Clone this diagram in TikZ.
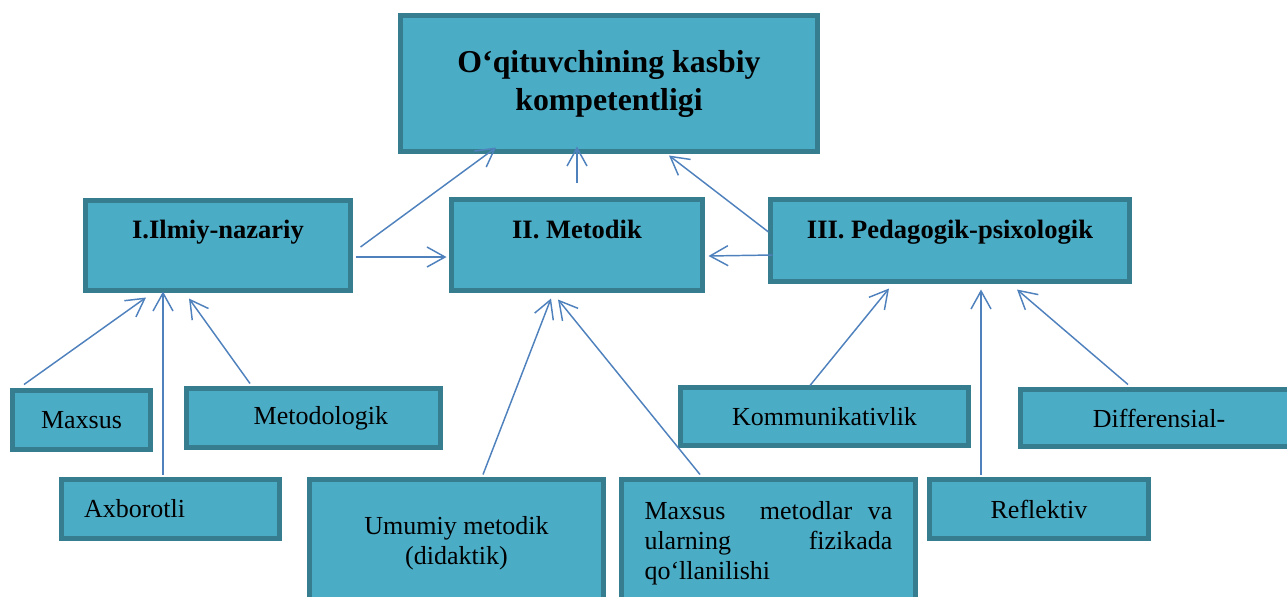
\documentclass[tikz,border=0pt]{standalone}
\usepackage{fontspec}
\setmainfont{Liberation Serif}
\usetikzlibrary{arrows.meta,calc}
\definecolor{boxfill}{HTML}{4BACC6}
\definecolor{boxline}{HTML}{367E8F}
\definecolor{arrowc}{HTML}{4F81BD}
\tikzset{
 kbox/.style={draw=boxline, fill=boxfill, line width=3.75pt, inner sep=0pt, font=\fontsize{19.5}{22.5}\selectfont},
 hbox/.style={kbox, font=\bfseries\fontsize{19.9}{24}\selectfont, text height=15pt},
 conn/.style={draw=arrowc, line width=1.1pt, -{Straight Barb[length=13.5pt,width=15pt,line width=1.1pt]}},
}
\begin{document}
\begin{tikzpicture}[x=0.75pt,y=-0.75pt]
\useasboundingbox (0,0) rectangle (1287,596);
\clip (0,0) rectangle (1287,596);
\node[kbox, minimum width=312.75pt, minimum height=102pt, align=center, font=\bfseries\fontsize{23.85}{28.5}\selectfont] (T) at (609,83.5) {O‘qituvchining kasbiy\\kompetentligi};
\node[hbox, minimum width=198.75pt, minimum height=67.5pt, text depth=26.25pt] (I) at (218,245.5) {I.Ilmiy-nazariy};
\node[hbox, minimum width=188.25pt, minimum height=68.25pt, text depth=25.5pt] (M) at (577,245) {II. Metodik};
\node[hbox, minimum width=269.25pt, minimum height=61.5pt, text depth=18.75pt] (P) at (950,240.5) {III. Pedagogik-psixologik};
\node[kbox, minimum width=103.5pt, minimum height=44.25pt] (a1) at (81.5,420) {Maxsus};
\node[kbox, minimum width=190.5pt, minimum height=44.25pt] (a2) at (313.5,418) {\hspace*{11pt}Metodologik};
\node[kbox, minimum width=163.5pt, minimum height=44.25pt, text width=129.75pt, inner xsep=16.9pt, align=left] (a3) at (170.5,509) {Axborotli};
\node[kbox, minimum width=220.5pt, minimum height=96pt, align=center] (b1) at (456.5,543.5) {Umumiy metodik\\(didaktik)};
\node[kbox, minimum width=220.5pt, minimum height=96pt, text width=186pt, align=left] (b2) at (768.5,543.5) {\makebox[186pt][l]{Maxsus\hfill metodlar\hspace{0.6em}va}\\\makebox[186pt][l]{ularning\hfill fizikada}\\qo‘llanilishi};
\node[kbox, minimum width=216pt, minimum height=43.5pt] (c1) at (824.5,416.5) {Kommunikativlik};
\node[kbox, minimum width=207.75pt, minimum height=42.75pt] (c2) at (1159,418) {Differensial-};
\node[kbox, minimum width=164.25pt, minimum height=44.25pt] (c3) at (1039,509) {Reflektiv};
% connectors
\draw[conn] ($(I.east)+(7.5,1.5)$) -- ($(T.south)+(-113,-6.5)$);
\draw[conn] ($(I.east)+(2.5,11.5)$) -- ($(M.west)+(-2.5,12)$);
\draw[conn] ($(M.north)+(0,-14.5)$) -- ($(T.south)+(-32,-7.5)$);
\draw[conn] ($(P.west)+(0.5,-8.5)$) -- ($(T.south)+(60,1.5)$);
\draw[conn] ($(P.west)+(4.5,14.5)$) -- ($(M.east)+(3.5,11)$);
\draw[conn] ($(a1.north)+(-57.5,-3.5)$) -- ($(I.south)+(-72,4.5)$);
\draw[conn] ($(a3.north)+(-7.5,-2.5)$) -- ($(I.south)+(-55,-1.5)$);
\draw[conn] ($(a2.north)+(-63.5,-2.5)$) -- ($(I.south)+(-29,5.5)$);
\draw[conn] ($(b1.north)+(26.5,-2.5)$) -- ($(M.south)+(-26,5.5)$);
\draw[conn] ($(b2.north)+(-68.5,-2.5)$) -- ($(M.south)+(-19,6.5)$);
\draw[conn] ($(c1.north)+(-14.5,0.5)$) -- ($(P.south)+(-61,4.5)$);
\draw[conn] ($(c3.north)+(-58,-2.5)$) -- ($(P.south)+(31,5.5)$);
\draw[conn] ($(c2.north)+(-31,-2.5)$) -- ($(P.south)+(67,5.5)$);
\end{tikzpicture}
\end{document}
